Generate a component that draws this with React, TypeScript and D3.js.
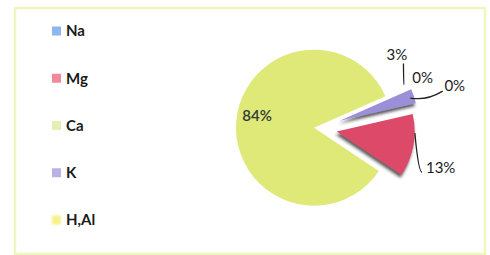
import React from 'react';
import * as d3 from 'd3';

const labels = ['Na', 'Mg', 'Ca', 'K', 'H,Al'];
const values = [0, 13, 84, 3, 0];
const pctText = ['0%', '13%', '84%', '3%', '0%'];
const legendColors = ['#8fb6ec', '#f3889d', '#e4efb2', '#bab2e4', '#f6f28a'];
const sliceColors = ['#7fa6e0', '#dc4a69', '#dfe978', '#9b90d8', '#f2ee7a'];
const explode = [0, 19, 4, 23, 0];
// label anchor (deg clockwise from 12, radius) per slice
const labelAngle = [73, 108, 281, 47, 64.5];
const labelRadius = [143, 129, 62, 108, 116];
// leader lines [startDeg, startR, endDeg, endR], null = none
const leaders: (number[] | null)[] = [[72, 97, 73.5, 130], [93, 97, 113, 113], null, [63.4, 96, 53, 107], null];

const W = 490, H = 255;
const cx = 318, cy = 128, R = 78;
const startDeg = 77;

function polar(deg: number, r: number): [number, number] {
  const a = (deg * Math.PI) / 180;
  return [cx + r * Math.sin(a), cy - r * Math.cos(a)];
}

export default function App() {
  const pie = d3.pie<number>().sort(null)
    .startAngle((startDeg * Math.PI) / 180)
    .endAngle((startDeg * Math.PI) / 180 + 2 * Math.PI);
  const arcs = pie(values);
  const arc = d3.arc<d3.PieArcDatum<number>>().innerRadius(0).outerRadius(R);
  const legendY = d3.scalePoint<string>().domain(labels).range([31, 220]);
  const font = 'Lato, "Noto Sans", sans-serif';

  return (
    <svg width={W} height={H} style={{ position: 'absolute', left: 0, top: 0, background: '#fff' }}>
      <defs>
        <filter id="sh" x="-30%" y="-30%" width="160%" height="160%">
          <feDropShadow dx="-1" dy="3" stdDeviation="1.4" floodColor="#2a2a2a" floodOpacity="0.75" />
        </filter>
        <filter id="glow" x="-50%" y="-50%" width="200%" height="200%">
          <feGaussianBlur stdDeviation="0.8" />
        </filter>
        <filter id="soft">
          <feGaussianBlur stdDeviation="0.35" />
        </filter>
      </defs>
      <rect x={15} y={8} width={470} height={246} fill="none" stroke="#f1f5bf" strokeWidth={2.5} />

      <g filter="url(#soft)">
        {arcs.map((d, i) => {
          if (d.endAngle - d.startAngle <= 0) return null;
          const mid = (d.startAngle + d.endAngle) / 2;
          const dx = explode[i] * Math.sin(mid);
          const dy = -explode[i] * Math.cos(mid);
          return (
            <path key={labels[i]} d={arc(d) || ''} transform={`translate(${cx + dx},${cy + dy})`}
              fill={sliceColors[i]} filter={i === 2 ? undefined : 'url(#sh)'} />
          );
        })}
      </g>

      {leaders.map((l, i) => {
        if (!l) return null;
        const [x1, y1] = polar(l[0], l[1]);
        const [x2, y2] = polar(l[2], l[3]);
        const qx = (x1 + x2) / 2, qy = Math.max(y1, y2) + (i === 0 ? 3 : 0);
        return <path key={'l' + i} d={`M${x1},${y1}Q${qx},${qy} ${x2},${y2}`} fill="none" stroke="#222" strokeWidth={1.3} />;
      })}

      {arcs.map((d, i) => {
        const [x, y] = polar(labelAngle[i], labelRadius[i]);
        return (
          <text key={'t' + i} x={x} y={y} dy="0.35em" textAnchor="middle" fontFamily={font}
            fontSize={15} fill={i === 2 ? '#333a3a' : '#1c1c1c'} fontWeight={i === 2 ? 600 : 400}>
            {pctText[i]}
          </text>
        );
      })}

      {labels.map((lab, i) => (
        <g key={'g' + lab} transform={`translate(0,${legendY(lab)})`}>
          <rect x={52} y={-4.5} width={9} height={9} fill={legendColors[i]} filter={i === 4 ? 'url(#glow)' : undefined} />
          <text x={66} y={0} dy="0.36em" fontFamily={font} fontSize={15} fontWeight={700} fill="#1a1a1a">{lab}</text>
        </g>
      ))}
    </svg>
  );
}
